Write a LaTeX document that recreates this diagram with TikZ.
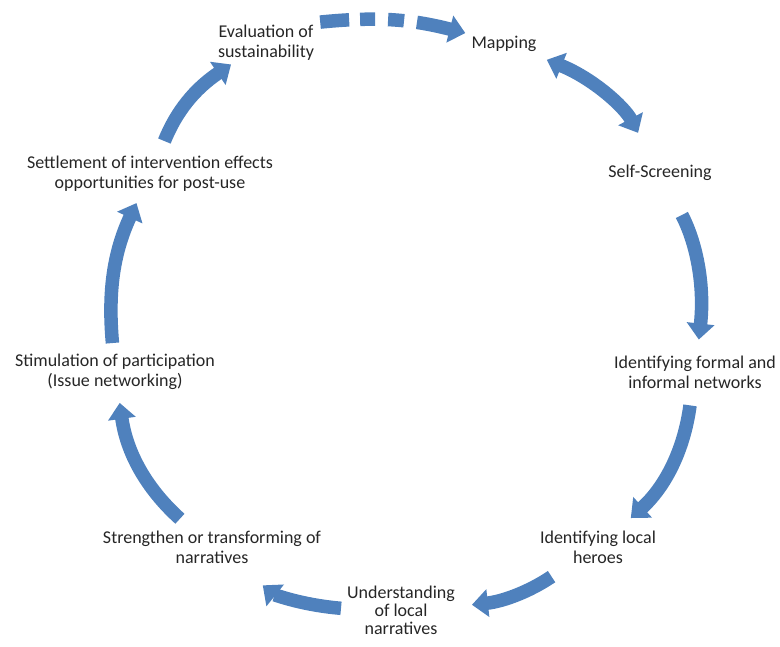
\documentclass[tikz,border=0pt]{standalone}
\usepackage{fontspec}
\setmainfont{Carlito}
\usetikzlibrary{arrows.meta}
\definecolor{cycleblue}{RGB}{79,129,189}
\definecolor{labelgrey}{RGB}{38,38,38}

\begin{document}
\begin{tikzpicture}[x=1pt,y=1pt]
\tikzset{
  stage/.style={font=\fontsize{18}{20}\selectfont,text=labelgrey,align=center,inner sep=3pt},
  flow/.style={draw=cycleblue,line width=13.5pt,-{Triangle[length=16pt,width=27pt]}},
  twoway/.style={flow,{Triangle[length=16pt,width=27pt]}-{Triangle[length=16pt,width=27pt]}}
}
\useasboundingbox (0,0) rectangle (780,646);
\node[stage] (eval) at (266,603) {Evaluation of\\sustainability};
\node[stage] (map) at (504,602) {Mapping};
\node[stage] (self) at (660,473) {Self-Screening};
\node[stage] (formal) at (695,274) {Identifying formal and\\informal networks};
\node[stage] (heroes) at (598,99) {Identifying local\\heroes};
\node[stage,font=\fontsize{18}{18}\selectfont] (under) at (401,36) {Understanding\\of local\\narratives};
\node[stage] (strength) at (212,99) {Strengthen or transforming of\\narratives};
\node[stage] (stim) at (115,274) {Stimulation of participation\\(Issue networking)};
\node[stage] (settle) at (150,472) {Settlement of intervention effects\\opportunities for post-use};
% the cycle, clockwise from the top
\draw[flow,dash pattern=on 29pt off 11pt on 15pt off 13pt on 16pt off 13pt on 200pt] ([xshift=3pt]eval.north east) to[bend left=10] ([xshift=-3pt]map.north west);
\draw[twoway,shorten <=13pt,shorten >=33pt] (map) to[bend left=20] (self);
\draw[flow,shorten <=35pt,shorten >=13pt] (self) to[bend left=17] (formal);
\draw[flow,shorten <=14pt,shorten >=14pt] (formal) to[bend left=20] (heroes);
\draw[flow,shorten <=18pt,shorten >=14pt] (heroes) to[bend left=14] (under);
\draw[flow,shorten <=3pt,shorten >=30pt] (under) to[bend left=17] (strength);
\draw[flow,shorten <=13pt,shorten >=10pt] (strength) to[bend left=20] (stim);
\draw[flow,shorten <=8pt,shorten >=9pt] (stim) to[bend left=15] (settle);
\draw[flow,shorten <=13pt,shorten >=1pt] (settle) to[bend left=17] (eval);
\end{tikzpicture}
\end{document}
